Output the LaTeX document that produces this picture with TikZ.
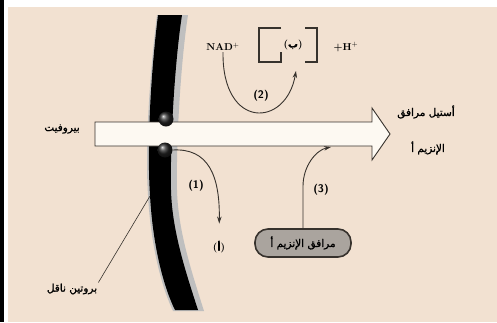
\documentclass[tikz,border=0pt]{standalone}
\usepackage{fontspec}
\usepackage{tikz}
\usetikzlibrary{arrows.meta, positioning, shapes}
\TeXXeTstate=1
\newfontfamily\arabicfont[Script=Arabic,FakeBold=1.2]{DejaVu Sans}
\definecolor{mybg}{RGB}{242,225,209}
\definecolor{mycream}{RGB}{253,249,242}
\definecolor{myboxgray}{RGB}{170,164,158}
\definecolor{myline}{RGB}{55,50,45}

\begin{document}
\begin{tikzpicture}[x=1pt,y=-1pt,
  ar/.style={font=\arabicfont\fontsize{10.5}{12}\selectfont, inner sep=1pt},
  num/.style={font=\sffamily\bfseries\fontsize{11}{13}\selectfont, inner sep=1pt},
  lat/.style={font=\bfseries\fontsize{10}{12}\selectfont, inner sep=1pt},
  flow/.style={-{Stealth[length=7pt,width=4.5pt]}, line width=0.9pt, myline},
  dot/.style={circle, minimum size=15pt, inner sep=0pt, ball color=black!85}]
        \useasboundingbox (0,0) rectangle (497,322);
        \fill[white](0,0) rectangle (497,322);
        \fill[black](0,0) rectangle (4,322);
        \fill[mybg](8,7) rectangle (497,322);
        % membrane
        \fill[black!25](157,15) .. controls (149,80) and (145,150) .. (148,195)
          .. controls (151,250) and (163,290) .. (173,311) -- (204,311)
          .. controls (191,270) and (178,230) .. (177,190)
          .. controls (176,140) and (181,60) .. (188,15) -- cycle;
        \fill[black](158,15) .. controls (150,80) and (147,150) .. (150,195)
          .. controls (153,250) and (165,290) .. (175,310) -- (198,310)
          .. controls (185,270) and (172,230) .. (171,190)
          .. controls (170,140) and (175,60) .. (182,15) -- cycle;
        \coordinate (memb) at (150,196);
        % big arrow
        \draw[myline,line width=0.9pt,fill=mycream](95,122) -- (372,122) -- (372,108)
          -- (390,134) -- (372,160) -- (372,146) -- (95,146) -- cycle;
        \node[dot] (dot1) at (166,119) {};
        \node[dot] (dot2) at (165,150) {};
        \coordinate (t2) at (296,71);
        \coordinate (t3) at (331,147);
        % labels
        \node[ar] (pyr) at (62,129) {\beginR بيروفيت\endR};
        \node[ar] (acoa1) at (426,112) {\beginR أستيل مرافق\endR};
        \node[ar] (acoa2) at (428,148) {\beginR الإنزيم أ\endR};
        \node[ar] (prot) at (72,289) {\beginR بروتين ناقل\endR};
        \node[lat] (nad) at (223,47) {NAD$^{+}$};
        \node[lat] (hp) at (346,47) {+H$^{+}$};
        \node[lat] (ba) at (293,45) {({\arabicfont ب})};
        \draw[myline,line width=1.6pt](281,28) -- (259,28) -- (259,62) -- (281,62) -- (281,52);
        \draw[myline,line width=1.6pt](305,28) -- (317,28) -- (317,62) -- (305,62);
        \node[lat] (alef) at (219,247) {({\arabicfont أ})};
        \node[ar, draw=myline, line width=1.6pt, fill=myboxgray, rounded corners=13pt,
          minimum width=96pt, minimum height=28pt] (coa) at (303,243) {\beginR مرافق الإنزيم أ\endR};
        \node[num] (n1) at (196,186) {(1)};
        \node[num] (n2) at (261,96) {(2)};
        \node[num] (n3) at (321,190) {(3)};
        % connectors
        \draw[flow](dot2.east) .. controls (208,148) and (220,175) .. (alef.north)
          [shorten >=16pt];
        \draw[flow](nad.south) .. controls (222,130) and (286,128) .. (t2);
        \draw[flow](coa.north) -- ++(0,-42) .. controls +(0,-20) and (316,150) .. (t3);
        \draw[myline,line width=0.6pt](prot.north east) -- (memb);
      \end{tikzpicture}
\end{document}
